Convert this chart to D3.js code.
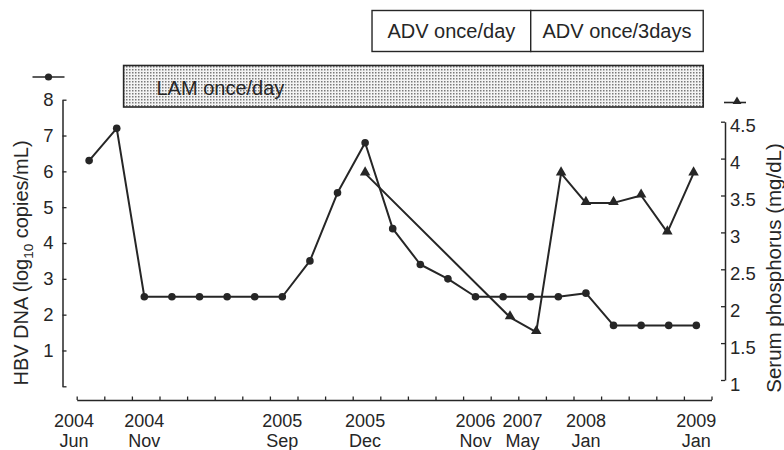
<!DOCTYPE html>
<html>
<head>
<meta charset="utf-8">
<script src="https://cdn.jsdelivr.net/npm/d3@7"></script>
<style>
  html, body { margin: 0; padding: 0; background: #fff; }
  svg { display: block; font-family: "Liberation Sans", Arial, Helvetica, sans-serif; }
</style>
</head>
<body>
<svg id="chart" width="784" height="450"></svg>
<script>
// ---- data ----
// HBV DNA (log10 copies/mL) at each visit index 0..22
const hbvDna = [6.3, 7.2, 2.5, 2.5, 2.5, 2.5, 2.5, 2.5, 3.5, 5.4, 6.8, 4.4, 3.4, 3.0, 2.5, 2.5, 2.5, 2.5, 2.6, 1.7, 1.7, 1.7, 1.7];
// Serum phosphorus (mg/dL): visit position and value
const phosVisit = [10, 15.25, 16.2, 17.1, 18, 19, 20, 20.95, 21.9];
const phosValue = [3.8, 1.85, 1.65, 3.8, 3.4, 3.4, 3.5, 3.0, 3.8];
// x-axis date labels (visit position, year, month)
const dateVisit = [-0.55, 2, 7, 10, 14, 15.7, 18, 22];
const dateYear  = ["2004", "2004", "2005", "2005", "2006", "2007", "2008", "2009"];
const dateMonth = ["Jun", "Nov", "Sep", "Dec", "Nov", "May", "Jan", "Jan"];
// treatment periods (visit positions)
const lamPeriod = { label: "LAM once/day", start: 1.25, end: 22.25 };
const advLabels = ["ADV once/day", "ADV once/3days"];
const advStart  = [10.25, 16.0];
const advEnd    = [16.0, 22.25];
const leftTicks  = [0, 1, 2, 3, 4, 5, 6, 7, 8];
const rightTicks = [1, 1.5, 2, 2.5, 3, 3.5, 4, 4.5];

// ---- layout ----
const svg = d3.select("#chart");
const ink = "#262626";

const x = d3.scaleLinear().domain([-0.45, 22.55]).range([76.7, 711.5]);
const yL = d3.scaleLinear().domain([0, 8]).range([386.3, 99.7]);
const yR = d3.scaleLinear().domain([1, 4.5]).range([380, 121.7]);

// stipple pattern
const defs = svg.append("defs");
const pat = defs.append("pattern").attr("id", "stipple")
  .attr("patternUnits", "userSpaceOnUse").attr("width", 3).attr("height", 3);
pat.append("rect").attr("width", 3).attr("height", 3).attr("fill", "#f4f4f4");
pat.append("rect").attr("width", 1.5).attr("height", 1.5).attr("fill", "#7a7a7a");

// LAM bar
svg.append("rect")
  .attr("x", x(lamPeriod.start)).attr("y", 65.5)
  .attr("width", x(lamPeriod.end) - x(lamPeriod.start)).attr("height", 41.5)
  .attr("fill", "url(#stipple)").attr("stroke", ink).attr("stroke-width", 1.6);
svg.append("text")
  .attr("x", 156.5).attr("y", 94.5)
  .attr("font-size", 20).attr("fill", ink)
  .text(lamPeriod.label);

// ADV boxes
advLabels.forEach((lab, i) => {
  svg.append("rect")
    .attr("x", x(advStart[i])).attr("y", 10.5)
    .attr("width", x(advEnd[i]) - x(advStart[i])).attr("height", 41)
    .attr("fill", "#fff").attr("stroke", ink).attr("stroke-width", 1.4);
  svg.append("text")
    .attr("x", (x(advStart[i]) + x(advEnd[i])) / 2).attr("y", 37.5)
    .attr("text-anchor", "middle")
    .attr("font-size", 20).attr("fill", ink)
    .text(lab);
});

// axes
function styleAxis(g) {
  g.selectAll("path.domain").attr("stroke", ink).attr("stroke-width", 1.5);
  g.selectAll(".tick line").attr("stroke", ink).attr("stroke-width", 1.3);
  g.selectAll(".tick text").attr("fill", ink).attr("font-size", 18.5)
    .attr("font-family", "Liberation Sans, Arial, sans-serif");
}

const xTicks = d3.range(24).map(k => -0.45 + k);
const gx = svg.append("g").attr("transform", "translate(0,400)")
  .call(d3.axisBottom(x).tickValues(xTicks).tickSizeInner(-3.5).tickSizeOuter(0).tickFormat(""));
styleAxis(gx);

const gl = svg.append("g").attr("transform", "translate(62.5,0)")
  .call(d3.axisLeft(yL).tickValues(leftTicks).tickSizeInner(-4).tickSizeOuter(0).tickPadding(9)
    .tickFormat(d => d === 0 ? "" : d3.format("d")(d)));
styleAxis(gl);

const gr = svg.append("g").attr("transform", "translate(725,0)")
  .call(d3.axisRight(yR).tickValues(rightTicks).tickSizeInner(-4).tickSizeOuter(0).tickPadding(5)
    .tickFormat(d => String(d)));
styleAxis(gr);
gr.selectAll(".tick text").attr("dy", "0.55em");

// x labels
const xl = svg.append("g").attr("fill", ink).attr("font-size", 18).attr("text-anchor", "middle");
dateVisit.forEach((v, i) => {
  xl.append("text").attr("x", x(v)).attr("y", 427).text(dateYear[i]);
  xl.append("text").attr("x", x(v)).attr("y", 447).text(dateMonth[i]);
});

// axis titles
const lt = svg.append("text")
  .attr("transform", "translate(28,263) rotate(-90)")
  .attr("text-anchor", "middle").attr("font-size", 20).attr("fill", ink);
lt.append("tspan").text("HBV DNA (log");
lt.append("tspan").attr("font-size", 13.5).attr("dy", 5).text("10");
lt.append("tspan").attr("dy", -5).text(" copies/mL)");

svg.append("text")
  .attr("transform", "translate(781,268) rotate(-90)")
  .attr("text-anchor", "middle").attr("font-size", 20.5).attr("fill", ink)
  .text("Serum phosphorus (mg/dL)");

// legend keys
svg.append("line").attr("x1", 32.5).attr("x2", 64.5).attr("y1", 77).attr("y2", 77)
  .attr("stroke", ink).attr("stroke-width", 1.6);
svg.append("circle").attr("cx", 48.5).attr("cy", 77).attr("r", 3.6).attr("fill", ink);

const tri = d3.symbol().type(d3.symbolTriangle).size(34);
svg.append("line").attr("x1", 724).attr("x2", 746).attr("y1", 102.5).attr("y2", 102.5)
  .attr("stroke", ink).attr("stroke-width", 1.6);
svg.append("path").attr("d", tri).attr("transform", "translate(737,101.5)").attr("fill", ink);

// HBV DNA line
const dnaLine = d3.line().x((d, i) => x(i)).y(d => yL(d));
svg.append("path").datum(hbvDna).attr("d", dnaLine)
  .attr("fill", "none").attr("stroke", ink).attr("stroke-width", 2).attr("stroke-linejoin", "round");
svg.append("g").selectAll("circle").data(hbvDna).join("circle")
  .attr("cx", (d, i) => x(i)).attr("cy", d => yL(d)).attr("r", 3.8).attr("fill", ink);

// phosphorus line
const phos = phosVisit.map((v, i) => [v, phosValue[i]]);
const phLine = d3.line().x(d => x(d[0])).y(d => yR(d[1]));
svg.append("path").datum(phos).attr("d", phLine)
  .attr("fill", "none").attr("stroke", ink).attr("stroke-width", 2).attr("stroke-linejoin", "round");
svg.append("g").selectAll("path").data(phos).join("path")
  .attr("d", d3.symbol().type(d3.symbolTriangle).size(48))
  .attr("transform", d => `translate(${x(d[0])},${yR(d[1]) - 1})`)
  .attr("fill", ink);
</script>
</body>
</html>
